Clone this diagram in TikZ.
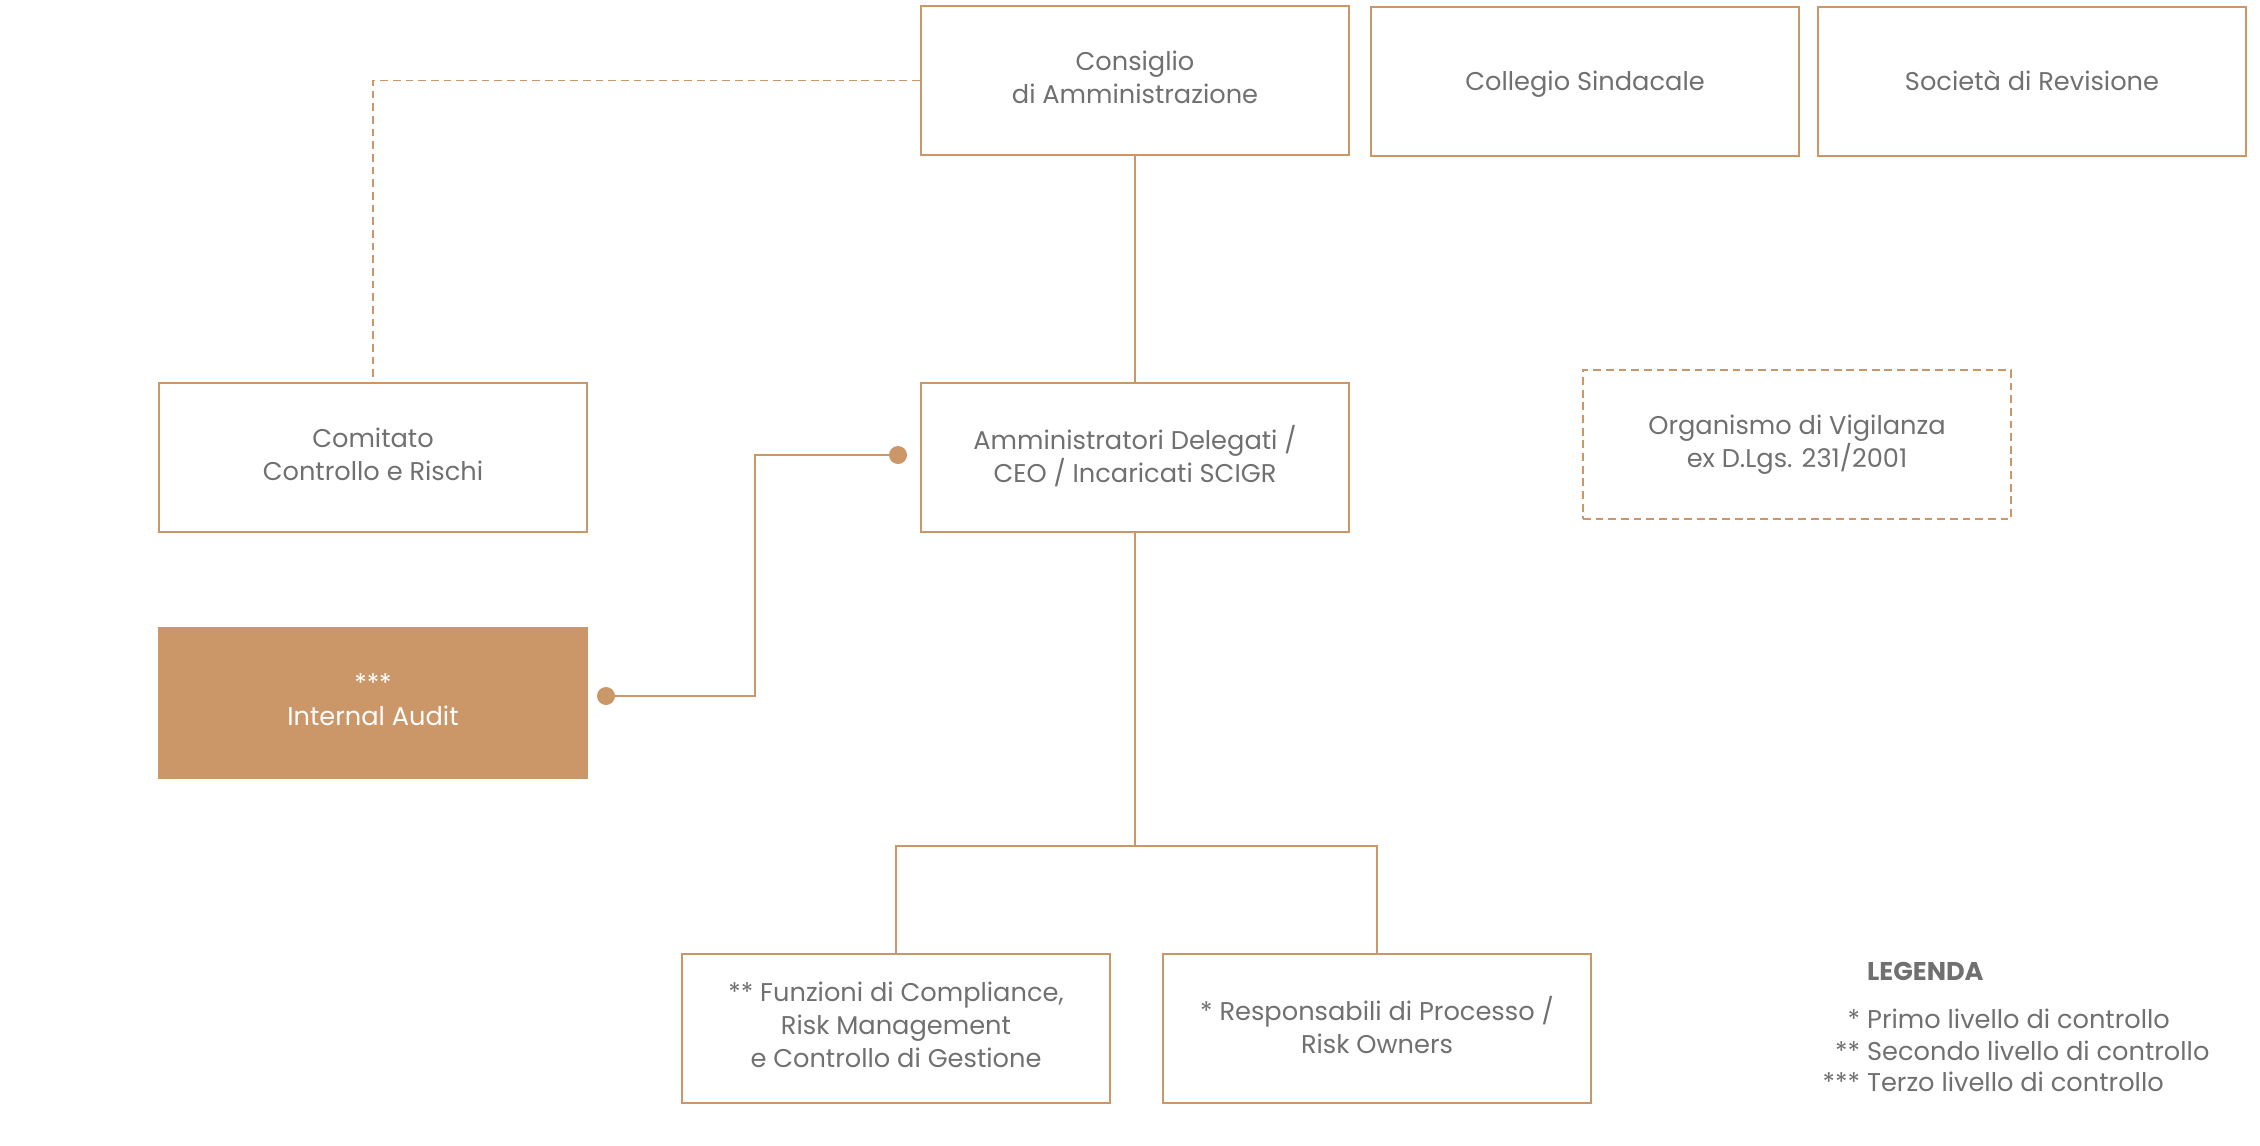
\documentclass[tikz,border=0pt]{standalone}
\usepackage{fontspec}
\setmainfont{Poppins}
\usetikzlibrary{calc}
\definecolor{bronze}{HTML}{CB9768}
\definecolor{txtgrey}{HTML}{707070}
\newcommand{\boxstrut}{\rule[-2pt]{0pt}{9.2pt}}
\tikzset{box/.style = {shape=rectangle,draw=bronze,line width=0.6pt,minimum width=4.28cm,minimum height=1.49cm,align=center,text=txtgrey,font=\fontsize{7.3}{9.4}\selectfont,execute at begin node=\boxstrut,execute at end node=\boxstrut}}
\tikzset{dashbox/.style = {box,dash pattern=on 2.2pt off 1.4pt}}
\tikzset{auditbox/.style = {box,fill=bronze,text=white}}
\tikzset{link/.style = {draw=bronze,line width=0.45pt}}
\tikzset{dot/.style = {shape=circle,fill=bronze,inner sep=0pt,minimum size=0.18cm}}

\begin{document}
\begin{tikzpicture}[x=0.01cm,y=-0.01cm]
                    \useasboundingbox (0,0) rectangle (2260,1145);

                    \node[box] (cda) at (1135,80.5) {Consiglio\\di Amministrazione};
                    \node[box] (coll) at (1585,81.5) {Collegio Sindacale};
                    \node[box] (soc) at (2032,81.5) {Società di Revisione};

                    \node[box] (ccr) at (373,457.5) {Comitato\\Controllo e Rischi};
                    \node[box] (ad) at (1135,457.5) {Amministratori Delegati /\\CEO / Incaricati SCIGR};
                    \node[dashbox] (odv) at (1797,444.5) {Organismo di Vigilanza\\ex D.Lgs. 231/2001};

                    \node[auditbox] (ia) at (373,703) {***\\Internal Audit};

                    \node[box] (fcomp) at (896,1028.5) {** Funzioni di Compliance,\\Risk Management\\e Controllo di Gestione};
                    \node[box] (resp) at (1377,1028.5) {* Responsabili di Processo /\\Risk Owners};

                    \node[anchor=north west,text=txtgrey,font=\fontsize{7.3}{9.0}\selectfont,inner sep=0pt] (leg) at (1822,958) {\begin{tabular}{@{}r@{\hspace{2pt}}l@{}}
                        & \textbf{LEGENDA}\\[4.5pt]
                        {*} & Primo livello di controllo\\
                        {**} & Secondo livello di controllo\\
                        {***} & Terzo livello di controllo
                    \end{tabular}};

                    \coordinate (split) at (1135,846);
                    \node[dot] (iadot) at (606,696) {};
                    \node[dot] (addot) at (898,455) {};

                    \draw[link,line width=0.5pt,dash pattern=on 2.2pt off 1.4pt] (cda.west) -| (ccr.north);
                    \draw[link] (cda) -- (ad);
                    \draw[link] (ad) -- (split);
                    \draw[link] (fcomp.north) |- (split) -| (resp.north);
                    \draw[link] (iadot.center) -- ($(iadot.center)+(149,0)$) |- (addot.center);
                \end{tikzpicture}
\end{document}
